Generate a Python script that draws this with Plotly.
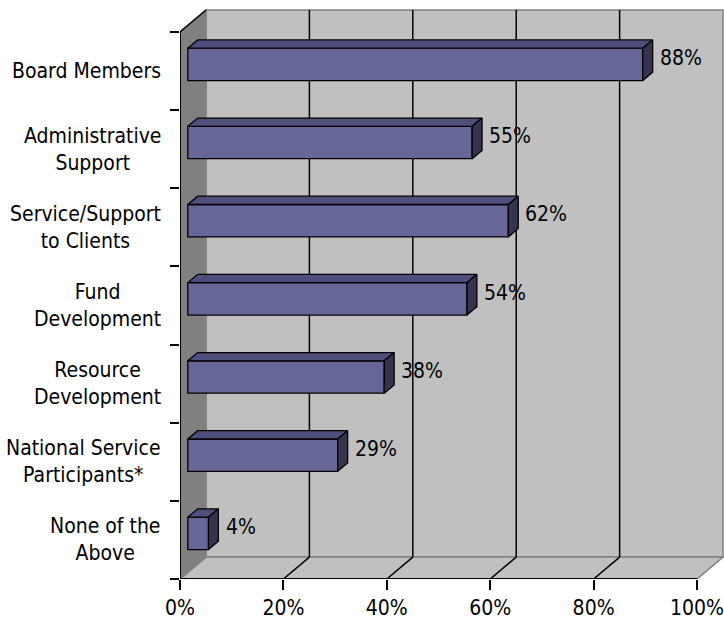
import plotly.graph_objects as go

# Survey results: share of respondents per category
categories = [
    "Board Members",
    "Administrative<br>Support",
    "Service/Support<br>to Clients",
    "Fund<br>Development",
    "Resource<br>Development",
    "National Service<br>Participants*",
    "None of the<br>Above",
]
values = [88, 55, 62, 54, 38, 29, 4]
x_ticks = [0, 20, 40, 60, 80, 100]
x_tick_labels = ["0%", "20%", "40%", "60%", "80%", "100%"]

FONT = "DejaVu Sans Condensed, Liberation Sans, Arial, sans-serif"
FS = 21

# Pseudo-3D depth vector (data units) and bar placement in depth
DX, DY = 5.03, -0.28
F1, F2 = 0.30, 0.68
HALF = 0.207
n = len(categories)
y_lo, y_hi = -0.5, n - 0.5

FRONT = "#666699"
TOP = "#4f4f7d"
SIDE = "#34344f"
WALL = "#c0c0c0"
SIDEWALL = "#808080"

fig = go.Figure()
shapes = []


def poly(pts):
    return "M " + " L ".join(f"{x},{y}" for x, y in pts) + " Z"


# back wall
shapes.append(dict(type="path", xref="x", yref="y", layer="below",
                   path=poly([(DX, y_lo + DY), (100 + DX, y_lo + DY),
                              (100 + DX, y_hi + DY), (DX, y_hi + DY)]),
                   fillcolor=WALL, line=dict(color=SIDEWALL, width=1.5)))
# floor
shapes.append(dict(type="path", xref="x", yref="y", layer="below",
                   path=poly([(0, y_hi), (100, y_hi), (100 + DX, y_hi + DY), (DX, y_hi + DY)]),
                   fillcolor=WALL, line=dict(color=SIDEWALL, width=1.5)))
# left side wall
shapes.append(dict(type="path", xref="x", yref="y", layer="below",
                   path=poly([(0, y_hi), (0, y_lo), (DX, y_lo + DY), (DX, y_hi + DY)]),
                   fillcolor=SIDEWALL, line=dict(color=SIDEWALL, width=1.2)))
# gridlines on back wall and floor
for t in x_ticks[1:-1]:
    shapes.append(dict(type="line", xref="x", yref="y", layer="below",
                       x0=t + DX, x1=t + DX, y0=y_lo + DY, y1=y_hi + DY,
                       line=dict(color="black", width=1.5)))
    shapes.append(dict(type="line", xref="x", yref="y", layer="below",
                       x0=t, x1=t + DX, y0=y_hi, y1=y_hi + DY,
                       line=dict(color="black", width=1.5)))
# front axis lines and top edge of side wall
shapes.append(dict(type="line", xref="x", yref="y", x0=0, x1=0, y0=y_lo, y1=y_hi,
                   line=dict(color="black", width=2)))
shapes.append(dict(type="line", xref="x", yref="y", x0=0, x1=DX, y0=y_lo, y1=y_lo + DY,
                   line=dict(color="black", width=1.5)))
shapes.append(dict(type="line", xref="x", yref="y", x0=0, x1=100, y0=y_hi, y1=y_hi,
                   line=dict(color="black", width=2)))

# bar front faces
base = F1 * DX
ys = [i + F1 * DY for i in range(n)]
fig.add_trace(go.Bar(
    x=values, y=ys, base=[base] * n, orientation="h", width=2 * HALF,
    marker=dict(color=FRONT, line=dict(color="black", width=1.3)),
    hoverinfo="skip", showlegend=False,
))

# top and side faces of each bar
ddx, ddy = (F2 - F1) * DX, (F2 - F1) * DY
for i, v in enumerate(values):
    yc = ys[i]
    yt, yb = yc - HALF, yc + HALF
    x0, x1 = base, base + v
    top = [(x0, yt), (x1, yt), (x1 + ddx, yt + ddy), (x0 + ddx, yt + ddy), (x0, yt)]
    side = [(x1, yt), (x1, yb), (x1 + ddx, yb + ddy), (x1 + ddx, yt + ddy), (x1, yt)]
    for pts, col in ((top, TOP), (side, SIDE)):
        fig.add_trace(go.Scatter(
            x=[p[0] for p in pts], y=[p[1] for p in pts], mode="lines",
            fill="toself", fillcolor=col, line=dict(color="black", width=1.3),
            hoverinfo="skip", showlegend=False,
        ))

annotations = []
# value labels
for i, v in enumerate(values):
    annotations.append(dict(x=v + F2 * DX + 1.0, y=i - 0.165, xref="x", yref="y",
                            text=f"{v}%", showarrow=False, xanchor="left",
                            font=dict(family=FONT, size=FS, color="black")))
# category labels
for i, c in enumerate(categories):
    annotations.append(dict(x=-0.031, y=i, xref="paper", yref="y", text=c,
                            showarrow=False, xanchor="right", align="center",
                            font=dict(family=FONT, size=FS, color="black")))

fig.update_layout(
    width=724, height=620,
    margin=dict(l=180, r=0, t=4, b=38),
    paper_bgcolor="white", plot_bgcolor="white",
    shapes=shapes, annotations=annotations,
    xaxis=dict(range=[0, 105.22], tickvals=x_ticks, ticktext=x_tick_labels,
               ticks="outside", ticklen=10, tickwidth=1.5, tickcolor="black",
               ticklabeloverflow="allow",
               showgrid=False, zeroline=False, showline=False,
               tickfont=dict(family=FONT, size=FS, color="black")),
    yaxis=dict(range=[y_hi, -0.8564], tickvals=[k - 0.5 for k in range(n + 1)],
               showticklabels=False, ticks="outside", ticklen=9, tickwidth=1.5,
               tickcolor="black", showgrid=False, zeroline=False, showline=False),
)

fig.write_html("out.html")
